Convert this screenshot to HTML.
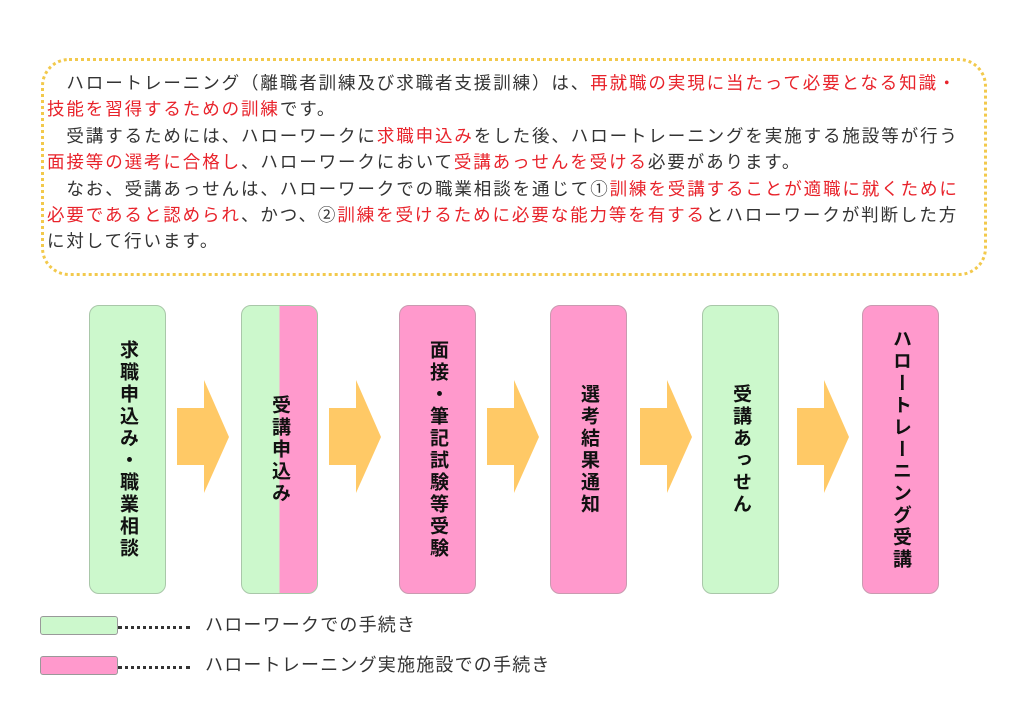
<!DOCTYPE html>
<html><head><meta charset="utf-8"><style>
body{margin:0;width:1024px;height:725px;background:#fff;position:relative;overflow:hidden;font-family:"Liberation Sans","Noto Sans CJK JP",sans-serif;}
.panel{position:absolute;left:41px;top:58px;width:940px;height:212px;border:3px dotted #f2c94c;border-radius:28px;}
.txt{position:absolute;left:47px;top:70px;font-size:17.5px;line-height:26.4px;letter-spacing:1.9px;color:#333;white-space:pre;}
.r{color:#e8232b;}
.box{position:absolute;top:305px;width:75px;height:287px;border:1.5px solid #a9c7a9;border-radius:10px;display:flex;align-items:center;justify-content:center;overflow:hidden;}
.g{background:#ccf8cc;}
.p{background:#ff99cc;border-color:#c99ab0;}
.v{writing-mode:vertical-rl;text-orientation:upright;font-weight:bold;font-size:19px;letter-spacing:3px;color:#111;position:relative;}
.leg{position:absolute;left:40px;width:76px;height:17px;border:1px solid #999;border-radius:3px;}
.dl{position:absolute;left:118px;width:72px;border-top:3px dotted #333;}
.lt{position:absolute;left:205px;font-size:18px;color:#333;letter-spacing:1.2px;}
</style></head><body>
<div class="panel"></div>
<div class="txt">　ハロートレーニング（離職者訓練及び求職者支援訓練）は、<span class="r">再就職の実現に当たって必要となる知識・</span>
<span class="r">技能を習得するための訓練</span>です。
　受講するためには、ハローワークに<span class="r">求職申込み</span>をした後、ハロートレーニングを実施する施設等が行う
<span class="r">面接等の選考に合格し</span>、ハローワークにおいて<span class="r">受講あっせんを受ける</span>必要があります。
　なお、受講あっせんは、ハローワークでの職業相談を通じて①<span class="r">訓練を受講することが適職に就くために</span>
<span class="r">必要であると認められ</span>、かつ、②<span class="r">訓練を受けるために必要な能力等を有する</span>とハローワークが判断した方
に対して行います。</div>

<div class="box g" style="left:89px"><div class="v">求職申込み・職業相談</div></div>
<div class="box" style="left:241px;background:linear-gradient(90deg,#ccf8cc 50%,#ff99cc 50%)"><div class="v">受講申込み</div></div>
<div class="box p" style="left:399px"><div class="v">面接・筆記試験等受験</div></div>
<div class="box p" style="left:550px"><div class="v">選考結果通知</div></div>
<div class="box g" style="left:702px"><div class="v">受講あっせん</div></div>
<div class="box p" style="left:862px"><div class="v">ハロートレーニング受講</div></div>

<svg width="1024" height="725" style="position:absolute;left:0;top:0">
<g fill="#ffc966">
<polygon points="177,408 204,408 204,380 229,437 204,493 204,465 177,465"/>
<polygon points="329,408 356,408 356,380 381,437 356,493 356,465 329,465"/>
<polygon points="487,408 514,408 514,380 539,437 514,493 514,465 487,465"/>
<polygon points="640,408 667,408 667,380 692,437 667,493 667,465 640,465"/>
<polygon points="797,408 824,408 824,380 849,437 824,493 824,465 797,465"/>
</g></svg>

<div class="leg" style="top:616px;background:#ccf8cc"></div>
<div class="dl" style="top:626px"></div>
<div class="lt" style="top:611px">ハローワークでの手続き</div>
<div class="leg" style="top:656px;background:#ff99cc"></div>
<div class="dl" style="top:666px"></div>
<div class="lt" style="top:651px">ハロートレーニング実施施設での手続き</div>
</body></html>
